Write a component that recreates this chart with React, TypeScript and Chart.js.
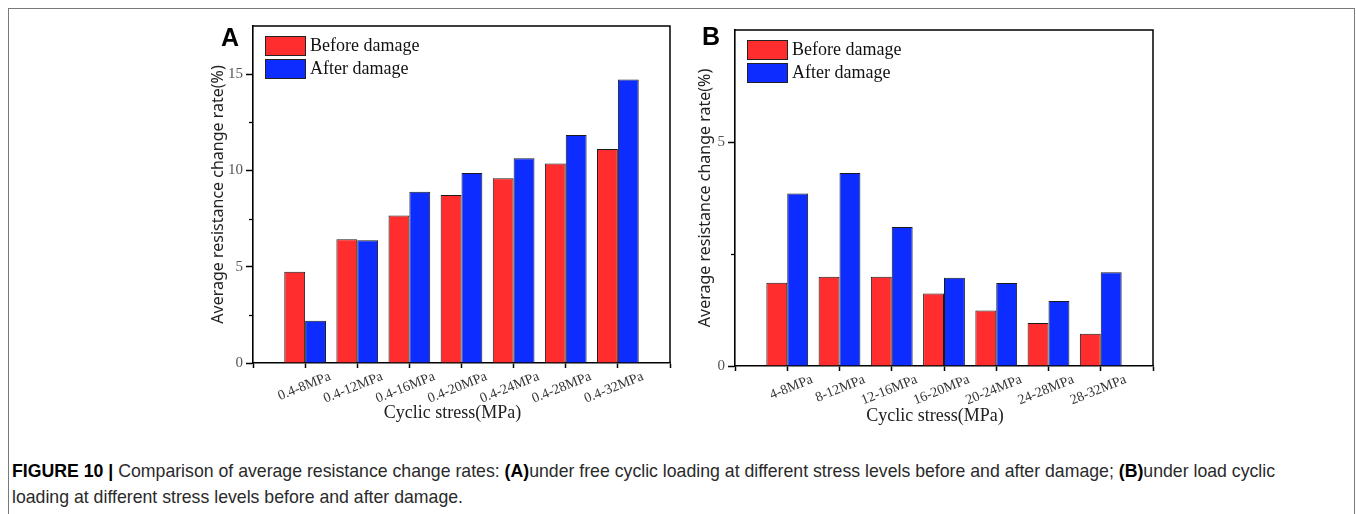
import React, { useEffect, useRef } from 'react';
import { Chart, registerables } from 'chart.js';

Chart.register(...registerables);

// Panel A: free cyclic loading (stress ranges starting at 0.4 MPa)
const stressRangesA = ['0.4-8MPa', '0.4-12MPa', '0.4-16MPa', '0.4-20MPa', '0.4-24MPa', '0.4-28MPa', '0.4-32MPa'];
const beforeDamageA = [4.74, 6.42, 7.66, 8.73, 9.6, 10.36, 11.11];
const afterDamageA = [2.2, 6.37, 8.89, 9.86, 10.63, 11.84, 14.72];
const yMajorTicksA = [0, 5, 10, 15];
const yMinorTicksA = [2.5, 7.5, 12.5];
const yMaxA = 17.5;

// Panel B: load cyclic loading
const stressRangesB = ['4-8MPa', '8-12MPa', '12-16MPa', '16-20MPa', '20-24MPa', '24-28MPa', '28-32MPa'];
const beforeDamageB = [1.86, 1.99, 1.99, 1.62, 1.24, 0.96, 0.72];
const afterDamageB = [3.85, 4.31, 3.1, 1.97, 1.85, 1.45, 2.09];
const yMajorTicksB = [0, 5];
const yMinorTicksB = [2.5];
const yMaxB = 7.5;

const seriesLabels = ['Before damage', 'After damage'];
const seriesColors = ['#ff2d2d', '#0d2cff'];

const yAxisTitle = 'Average resistance change rate(%)';
const xAxisTitle = 'Cyclic stress(MPa)';

const SERIF = '"Liberation Serif", "Times New Roman", serif';
const SANS = '"Noto Sans", "Liberation Sans", sans-serif';

type Geometry = {
  canvasLeft: number;
  canvasWidth: number;
  canvasHeight: number;
  left: number;
  right: number;
  top: number;
  bottom: number;
  yTitleX: number;
  letterX: number;
  letterBaseline: number;
};

type PanelProps = {
  letter: string;
  categories: string[];
  before: number[];
  after: number[];
  majorTicks: number[];
  minorTicks: number[];
  yMax: number;
  geo: Geometry;
};

const X_AXIS_HEIGHT = 60;

function Panel({ letter, categories, before, after, majorTicks, minorTicks, yMax, geo }: PanelProps) {
  const canvasRef = useRef<HTMLCanvasElement | null>(null);

  useEffect(() => {
    const canvas = canvasRef.current;
    if (!canvas) return;

    const yTitleSize = 16;
    const yTitlePad = geo.yTitleX - geo.canvasLeft - (yTitleSize * 1.2) / 2;

    // Frame, minor ticks, rotated category labels, axis title, legend and panel letter
    const decor = {
      id: 'panelDecor',
      afterDraw(chart: any) {
        const { ctx, chartArea: a, scales } = chart;
        const xs = scales.x;
        const ys = scales.y;
        ctx.save();

        ctx.strokeStyle = '#000';
        ctx.lineWidth = 1.5;
        ctx.beginPath();
        ctx.moveTo(a.left, a.top);
        ctx.lineTo(a.right, a.top);
        ctx.lineTo(a.right, a.bottom);
        ctx.stroke();

        ctx.lineWidth = 1.3;
        minorTicks.forEach((v) => {
          const py = Math.round(ys.getPixelForValue(v)) + 0.5;
          ctx.beginPath();
          ctx.moveTo(a.left - 4, py);
          ctx.lineTo(a.left, py);
          ctx.stroke();
        });

        ctx.font = `14px ${SERIF}`;
        ctx.fillStyle = '#333';
        ctx.textAlign = 'right';
        ctx.textBaseline = 'middle';
        categories.forEach((c, i) => {
          const px = xs.getPixelForValue(i + 1);
          ctx.save();
          ctx.translate(px + 25, a.bottom + 13);
          ctx.rotate((-22 * Math.PI) / 180);
          ctx.fillText(c, 0, 0);
          ctx.restore();
        });

        ctx.font = `18px ${SERIF}`;
        ctx.fillStyle = '#222';
        ctx.textAlign = 'center';
        ctx.fillText(xAxisTitle, (a.left + a.right) / 2 - 9, a.bottom + 50);

        chart.data.datasets.forEach((ds: any, i: number) => {
          const bx = a.left + 12;
          const by = a.top + 10 + i * 23;
          ctx.fillStyle = ds.backgroundColor;
          ctx.fillRect(bx, by, 41, 20);
          ctx.lineWidth = 1;
          ctx.strokeStyle = '#222';
          ctx.strokeRect(bx + 0.5, by + 0.5, 40, 19);
          ctx.fillStyle = '#111';
          ctx.font = `18px ${SERIF}`;
          ctx.textAlign = 'left';
          ctx.textBaseline = 'middle';
          ctx.fillText(ds.label, bx + 45, by + 10);
        });

        ctx.font = `bold 25px "Liberation Sans", Arial, sans-serif`;
        ctx.fillStyle = '#000';
        ctx.textAlign = 'left';
        ctx.textBaseline = 'alphabetic';
        ctx.fillText(letter, geo.letterX - geo.canvasLeft, geo.letterBaseline);

        ctx.restore();
      },
    };

    const chart = new Chart(canvas, {
      type: 'bar',
      data: {
        labels: ['', ...categories, ''],
        datasets: [
          {
            label: seriesLabels[0],
            data: [null, ...before, null],
            backgroundColor: seriesColors[0],
            borderColor: '#1a1a1a',
            borderWidth: 1,
            categoryPercentage: 0.8,
            barPercentage: 1,
          },
          {
            label: seriesLabels[1],
            data: [null, ...after, null],
            backgroundColor: seriesColors[1],
            borderColor: '#1a1a1a',
            borderWidth: 1,
            categoryPercentage: 0.8,
            barPercentage: 1,
          },
        ],
      },
      options: {
        responsive: false,
        animation: false,
        devicePixelRatio: 1,
        layout: {
          padding: {
            left: 0,
            right: geo.canvasWidth - (geo.right - geo.canvasLeft),
            top: geo.top,
            bottom: geo.canvasHeight - geo.bottom - X_AXIS_HEIGHT,
          },
        },
        plugins: {
          legend: { display: false },
          tooltip: { enabled: false },
        },
        scales: {
          x: {
            type: 'category',
            offset: false,
            grid: {
              offset: false,
              drawOnChartArea: false,
              drawTicks: true,
              tickLength: 5,
              tickColor: '#000',
              tickWidth: 1.5,
            },
            border: { display: true, color: '#000', width: 1.6 },
            ticks: { display: false },
            afterFit: (s: any) => {
              s.height = X_AXIS_HEIGHT;
            },
          },
          y: {
            min: 0,
            max: yMax,
            grid: {
              drawOnChartArea: false,
              drawTicks: true,
              tickLength: 7,
              tickColor: '#000',
              tickWidth: 1.5,
            },
            border: { display: true, color: '#000', width: 1.6 },
            ticks: {
              font: { family: SERIF, size: 15 },
              color: '#555',
              padding: 3,
            },
            title: {
              display: true,
              text: yAxisTitle,
              font: { family: SANS, size: yTitleSize },
              color: '#222',
              padding: { top: yTitlePad, bottom: 0 },
            },
            afterBuildTicks: (s: any) => {
              s.ticks = majorTicks.map((v) => ({ value: v }));
            },
            afterFit: (s: any) => {
              s.width = geo.left - geo.canvasLeft;
            },
          },
        },
      },
      plugins: [decor],
    } as any);

    return () => chart.destroy();
  }, [letter, categories, before, after, majorTicks, minorTicks, yMax, geo]);

  return (
    <canvas
      ref={canvasRef}
      width={geo.canvasWidth}
      height={geo.canvasHeight}
      style={{
        position: 'absolute',
        left: geo.canvasLeft,
        top: 0,
        width: geo.canvasWidth,
        height: geo.canvasHeight,
      }}
    />
  );
}

const geoA: Geometry = {
  canvasLeft: 180,
  canvasWidth: 500,
  canvasHeight: 440,
  left: 253,
  right: 670,
  top: 26,
  bottom: 363,
  yTitleX: 218,
  letterX: 221,
  letterBaseline: 46,
};

const geoB: Geometry = {
  canvasLeft: 680,
  canvasWidth: 500,
  canvasHeight: 440,
  left: 735,
  right: 1153,
  top: 30,
  bottom: 366,
  yTitleX: 705,
  letterX: 702,
  letterBaseline: 45,
};

export default function App() {
  return (
    <div
      style={{
        position: 'fixed',
        left: 0,
        top: 0,
        width: 1356,
        height: 514,
        overflow: 'hidden',
        background: '#fff',
      }}
    >
      <div
        style={{
          position: 'absolute',
          left: 8,
          top: 8,
          width: 1345,
          height: 600,
          border: '1px solid #7a7a7a',
        }}
      />
      <Panel
        letter="A"
        categories={stressRangesA}
        before={beforeDamageA}
        after={afterDamageA}
        majorTicks={yMajorTicksA}
        minorTicks={yMinorTicksA}
        yMax={yMaxA}
        geo={geoA}
      />
      <Panel
        letter="B"
        categories={stressRangesB}
        before={beforeDamageB}
        after={afterDamageB}
        majorTicks={yMajorTicksB}
        minorTicks={yMinorTicksB}
        yMax={yMaxB}
        geo={geoB}
      />
      <div
        style={{
          position: 'absolute',
          left: 12,
          top: 458,
          fontFamily: '"Liberation Sans", Arial, sans-serif',
          fontSize: 17.7,
          lineHeight: '26px',
          color: '#2a2a2a',
          whiteSpace: 'nowrap',
        }}
      >
        <b style={{ color: '#000' }}>FIGURE 10 |</b> Comparison of average resistance change rates:{' '}
        <b style={{ color: '#000' }}>(A)</b>under free cyclic loading at different stress levels before and after
        damage; <b style={{ color: '#000' }}>(B)</b>under load cyclic
        <br />
        loading at different stress levels before and after damage.
      </div>
    </div>
  );
}
